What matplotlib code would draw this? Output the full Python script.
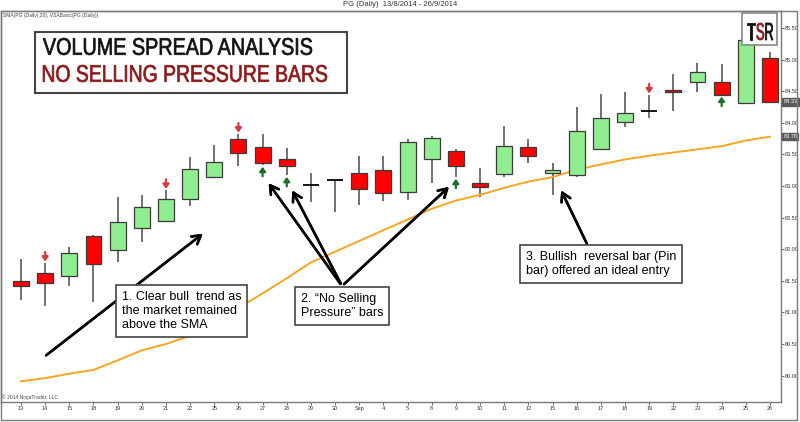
import matplotlib.pyplot as plt
from matplotlib.patches import Rectangle, PathPatch
from matplotlib.textpath import TextPath
from matplotlib.font_manager import FontProperties
import matplotlib.transforms as mtransforms

plt.rcParams['font.family'] = ['Liberation Sans', 'DejaVu Sans']

# PG daily, 13/8/2014 - 26/9/2014
dates = ['13', '14', '15', '18', '19', '20', '21', '22', '25', '26', '27', '28', '29', '30', 'Sep', '4',
         '5', '8', '9', '10', '11', '12', '15', '16', '17', '18', '19', '22', '23', '24', '25', '26']
opens = [81.49, 81.63, 81.58, 82.21, 81.98, 82.34, 82.45, 82.79, 83.15, 83.74, 83.61, 83.42, 83.02, 83.10, 83.20, 83.25,
         82.91, 83.43, 83.56, 83.04, 83.19, 83.61, 83.20, 83.17, 83.58, 84.02, 84.19, 84.52, 84.64, 84.65, 84.32, 85.02]
highs = [81.84, 81.78, 82.03, 82.22, 82.83, 82.86, 82.93, 83.46, 83.65, 83.82, 83.82, 83.60, 83.21, 83.11, 83.48, 83.47,
         83.74, 83.79, 83.59, 83.28, 83.95, 83.74, 83.37, 84.25, 84.45, 84.49, 84.44, 84.77, 84.95, 84.93, 85.36, 85.12]
lows = [81.20, 81.10, 81.42, 81.17, 81.80, 82.11, 82.45, 82.68, 83.14, 83.32, 83.33, 83.17, 82.75, 82.59, 82.70, 82.76,
        82.78, 83.05, 83.14, 82.83, 83.15, 83.37, 82.86, 83.15, 83.57, 83.93, 84.08, 84.19, 84.49, 84.44, 84.32, 84.33]
closes = [81.41, 81.46, 81.94, 81.77, 82.43, 82.67, 82.79, 83.27, 83.38, 83.53, 83.37, 83.31, 83.02, 83.10, 82.96, 82.89,
          83.69, 83.76, 83.32, 82.99, 83.63, 83.48, 83.25, 83.87, 84.08, 84.16, 84.19, 84.48, 84.81, 84.44, 85.31, 84.33]
sma20 = [79.91, 79.96, 80.03, 80.09, 80.24, 80.40, 80.50, 80.63, 80.85, 81.07, 81.30, 81.54, 81.79, 81.96, 82.13, 82.30,
         82.47, 82.64, 82.77, 82.86, 82.97, 83.07, 83.14, 83.26, 83.34, 83.42, 83.48, 83.53, 83.58, 83.63, 83.72, 83.78]
down_signals = [1, 6, 9, 26]
up_signals = [10, 11, 18, 29]
price_ticks = [80.0, 80.5, 81.0, 81.5, 82.0, 82.5, 83.0, 83.5, 84.0, 84.5, 85.0, 85.5]

W, H = 800, 422
fig = plt.figure(figsize=(8, 4.22), dpi=100)
fig.patch.set_facecolor('white')


def px(x, y):
    return (x / W, 1 - y / H)


def squeezed_text(s, x0, y0, x1, y1, color, weight='normal', stroke=0.5, z=6):
    # fit the outline of s into the pixel box (x0,y0)-(x1,y1), y measured from the top
    tp = TextPath((0, 0), s, size=50, prop=FontProperties(family='Liberation Sans', weight=weight))
    ext = tp.get_extents()
    tr = (mtransforms.Affine2D().translate(-ext.x0, -ext.y0)
          .scale((x1 - x0) / ext.width, (y1 - y0) / ext.height)
          .translate(x0, H - y1).scale(1 / W, 1 / H)) + fig.transFigure
    fig.add_artist(PathPatch(tp, transform=tr, fc=color, ec=color, lw=stroke, zorder=z))


ax = fig.add_axes([1 / W, 1 - 402 / H, 780 / W, 391 / H])
n = len(dates)
xs = list(range(n))

# candles
ax.vlines(xs, lows, highs, color='#4a4a4a', lw=1.1, zorder=2)
for i in xs:
    o, c = opens[i], closes[i]
    if abs(c - o) < 0.005:
        ax.hlines(o, i - 0.33, i + 0.33, color='black', lw=1.3, zorder=3)
        continue
    col = '#90ee90' if c > o else '#ff0000'
    ax.bar(i, abs(c - o), bottom=min(o, c), width=0.66, color=col,
           edgecolor='#3a3a3a', linewidth=0.9, zorder=3)

ax.plot(xs, sma20, color='#f5a623', lw=1.4, zorder=2)

# VSA signal arrows
for i in down_signals:
    ax.annotate('', xy=(i, highs[i]), xytext=(0, 8), textcoords='offset points',
                arrowprops=dict(arrowstyle='-|>,head_width=0.18,head_length=0.25',
                                color='#d43a3a', lw=1.6, shrinkA=0, shrinkB=1.2), zorder=4)
for i in up_signals:
    ax.annotate('', xy=(i, lows[i]), xytext=(0, -8), textcoords='offset points',
                arrowprops=dict(arrowstyle='-|>,head_width=0.18,head_length=0.25',
                                color='#1f6e2a', lw=1.6, shrinkA=0, shrinkB=1.2), zorder=4)

ax.set_xlim(-20 / 24.16, 760 / 24.16)
ax.set_ylim(85.5 - 374 / 63.2, 85.5 + 17 / 63.2)
ax.yaxis.tick_right()
ax.set_yticks(price_ticks)
ax.set_yticklabels(['%.2f' % v for v in price_ticks])
ax.set_xticks(xs)
ax.set_xticklabels(dates)
ax.tick_params(axis='both', labelsize=4, length=1.8, width=0.6, color='#555555',
               labelcolor='#333333', pad=1)
for s in ax.spines.values():
    s.set_color('#7a7a7a')
    s.set_linewidth(1.0)

# last price / sma markers on the axis
trans = mtransforms.blended_transform_factory(ax.transAxes, ax.transData)
for v in [closes[-1], sma20[-1]]:
    ax.text(1.003, v, '%.2f' % v, transform=trans, fontsize=4, color='white',
            va='center', ha='left', clip_on=False,
            bbox=dict(boxstyle='square,pad=0.2', fc='#5a5a5a', ec='#5a5a5a'))

# outer frame
fig.add_artist(Rectangle(px(1, 420), 796 / W, 409 / H, transform=fig.transFigure,
                         fill=False, ec='#7a7a7a', lw=1.0))

fig.text(*px(400, 5), 'PG (Daily)  13/8/2014 - 26/9/2014', fontsize=5.5, color='#333333',
         ha='center', va='center')
fig.text(*px(3, 15), 'SMA(PG (Daily),20), VSABasic(PG (Daily))', fontsize=3.6, color='#444444',
         ha='left', va='center')
fig.text(*px(2, 397), '\u00a9 2014 NinjaTrader, LLC', fontsize=3.6, color='#444444',
         ha='left', va='center')

# title box
fig.add_artist(Rectangle(px(35, 93), 312 / W, 61 / H, transform=fig.transFigure,
                         fc='white', ec='#444444', lw=1.5, zorder=5))
squeezed_text('VOLUME SPREAD ANALYSIS', 43, 38, 312, 55, '#111111')
squeezed_text('NO SELLING PRESSURE BARS', 43, 65, 327, 82, '#8b1a1a')

# TSR logo
fig.add_artist(Rectangle(px(742, 45), 35 / W, 32 / H, transform=fig.transFigure,
                         fc='white', ec='#888888', lw=1.2, zorder=5))
squeezed_text('T', 747, 23, 755, 40, '#111111', stroke=0.6)
squeezed_text('S', 756.5, 23, 764, 40, '#8b1a1a', stroke=0.6)
squeezed_text('R', 765.5, 23, 773, 40, '#111111', stroke=0.6)

# callout arrows
arrow_kw = dict(arrowstyle='->,head_width=0.35,head_length=0.6', color='black', lw=1.8)
callouts = [((44, 357), (205, 232)),
            ((342, 286), (267, 181)),
            ((342, 286), (291, 188)),
            ((342, 286), (451, 185)),
            ((588, 246), (560, 188))]
for start, end in callouts:
    fig.add_artist(plt.annotate('', xy=px(*end), xycoords='figure fraction',
                                xytext=px(*start), textcoords='figure fraction',
                                arrowprops=arrow_kw))

box_kw = dict(boxstyle='square,pad=0.45', fc='white', ec='#444444', lw=1.2)
fig.text(*px(122, 291), '1. Clear bull  trend as\nthe market remained\nabove the SMA', fontsize=9,
         ha='left', va='top', linespacing=1.25, bbox=box_kw, zorder=6)
fig.text(*px(301, 293), '2. \u201cNo Selling\nPressure\u201d bars', fontsize=9,
         ha='left', va='top', linespacing=1.25, bbox=box_kw, zorder=6)
fig.text(*px(526, 251), '3. Bullish  reversal bar (Pin\nbar) offered an ideal entry', fontsize=9,
         ha='left', va='top', linespacing=1.25, bbox=box_kw, zorder=6)

fig.savefig('out.png', dpi=100)
